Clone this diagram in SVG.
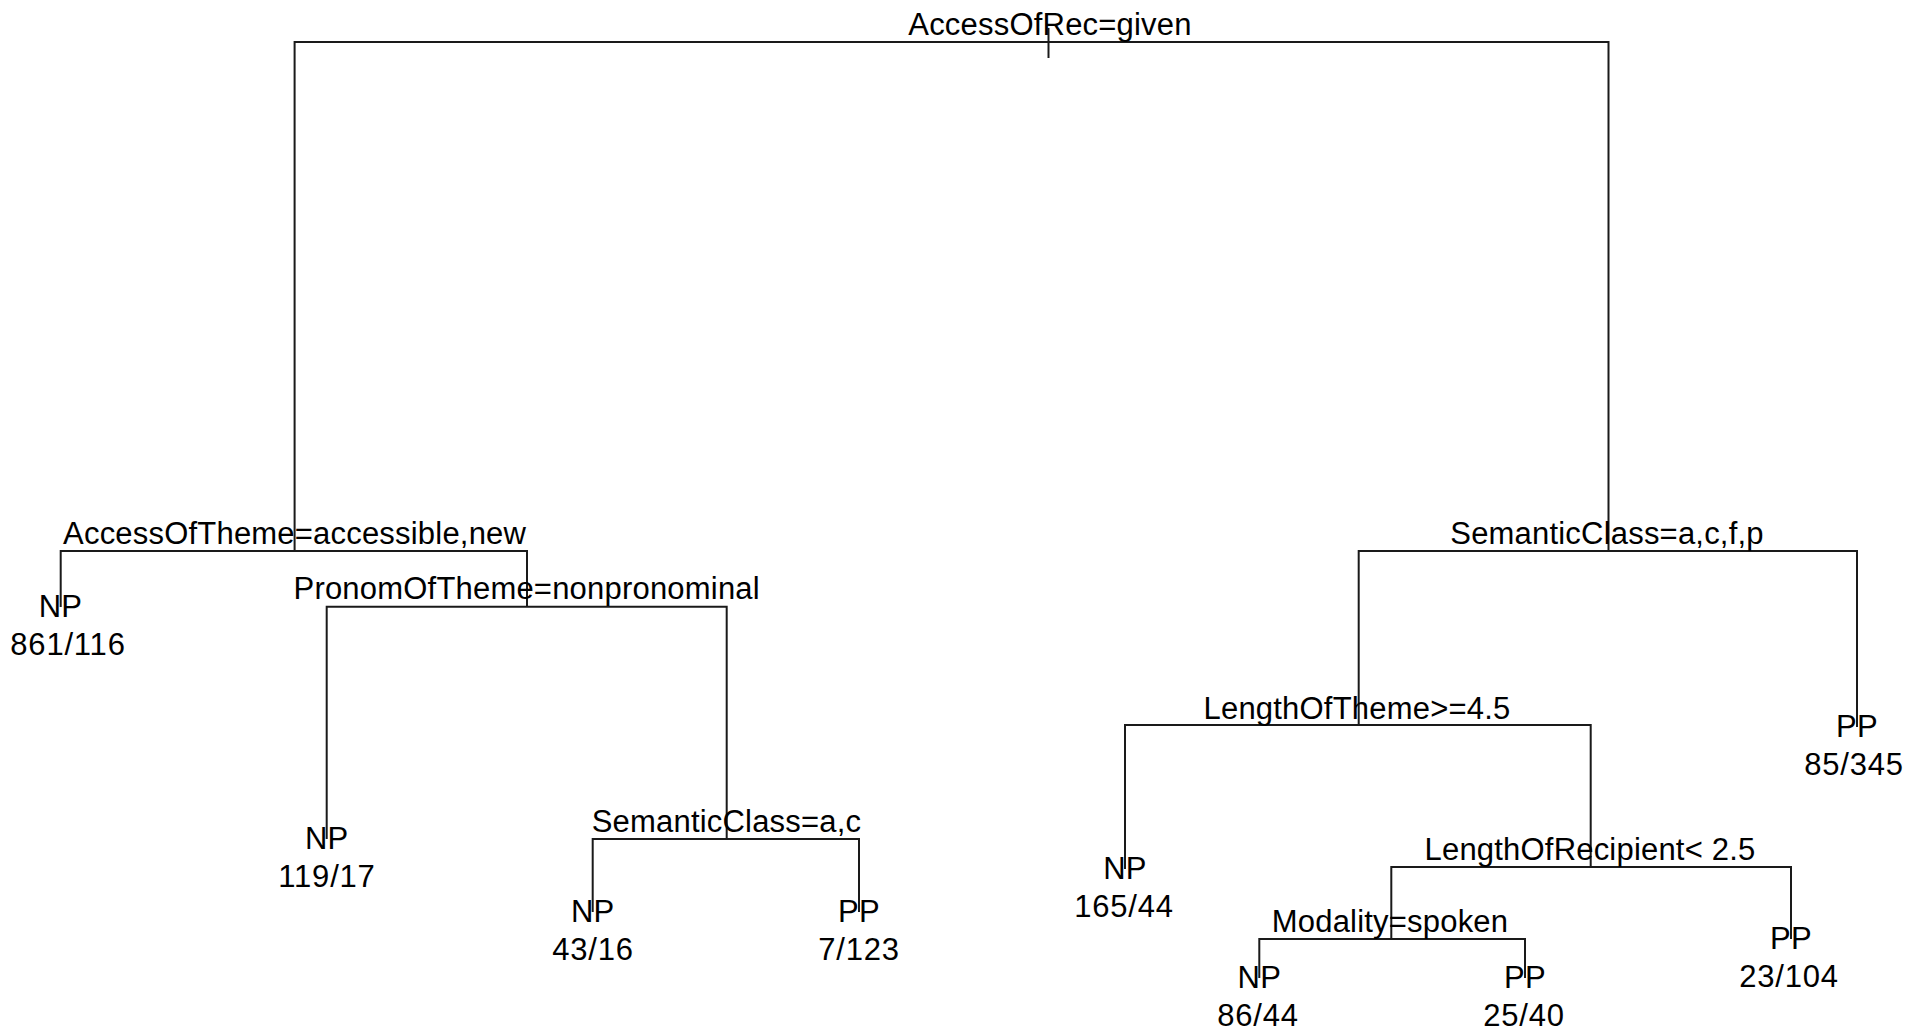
<svg xmlns="http://www.w3.org/2000/svg" width="1909" height="1030" viewBox="0 0 1909 1030">
<style>
text{font-family:"Liberation Sans",Arial,sans-serif;font-size:31px;fill:#000;text-anchor:middle;letter-spacing:0.2px}
text.n{letter-spacing:0.8px}
.c{fill:none;stroke:#1a1a1a;stroke-width:2}
</style>
<rect width="1909" height="1030" fill="#fff"/>
<g id="connectors" class="c">
<path d="M1048.5 28V58"/>
<path d="M294.6 551V42H1608.5V551"/>
<path d="M60.7 607V551H527V606.7"/>
<path d="M326.7 839V606.7H726.7V839"/>
<path d="M592.7 912V839H859V912"/>
<path d="M1358.7 725V551H1857V727"/>
<path d="M1125 869V725H1590.7V867"/>
<path d="M1391.3 939V867H1791V939"/>
<path d="M1259.3 978V939H1525V978"/>
</g>
<g id="n1"><text x="1050" y="34.5">AccessOfRec=given</text></g>
<g id="n2"><text x="294.6" y="543.5">AccessOfTheme=accessible,new</text></g>
<g id="n4"><text x="60.5" y="617.3">NP</text><text class="n" x="68" y="655">861/116</text></g>
<g id="n5"><text x="526.7" y="599.3">PronomOfTheme=nonpronominal</text></g>
<g id="n10"><text x="326.7" y="849">NP</text><text class="n" x="327" y="887">119/17</text></g>
<g id="n11"><text x="726.5" y="831.7">SemanticClass=a,c</text></g>
<g id="n22"><text x="592.7" y="921.7">NP</text><text class="n" x="593" y="960">43/16</text></g>
<g id="n23"><text x="859" y="921.7">PP</text><text class="n" x="859" y="960">7/123</text></g>
<g id="n3"><text x="1607" y="543.5">SemanticClass=a,c,f,p</text></g>
<g id="n7"><text x="1857" y="737">PP</text><text class="n" x="1854" y="775">85/345</text></g>
<g id="n6"><text x="1357" y="718.5">LengthOfTheme&gt;=4.5</text></g>
<g id="n12"><text x="1125" y="878.5">NP</text><text class="n" x="1124" y="916.5">165/44</text></g>
<g id="n13"><text x="1590" y="859.5">LengthOfRecipient&lt; 2.5</text></g>
<g id="n27"><text x="1791" y="949">PP</text><text class="n" x="1789" y="987">23/104</text></g>
<g id="n26"><text x="1390" y="931.7">Modality=spoken</text></g>
<g id="n52"><text x="1259.3" y="988.3">NP</text><text class="n" x="1258" y="1026">86/44</text></g>
<g id="n53"><text x="1525" y="988.3">PP</text><text class="n" x="1524" y="1026">25/40</text></g>
</svg>
